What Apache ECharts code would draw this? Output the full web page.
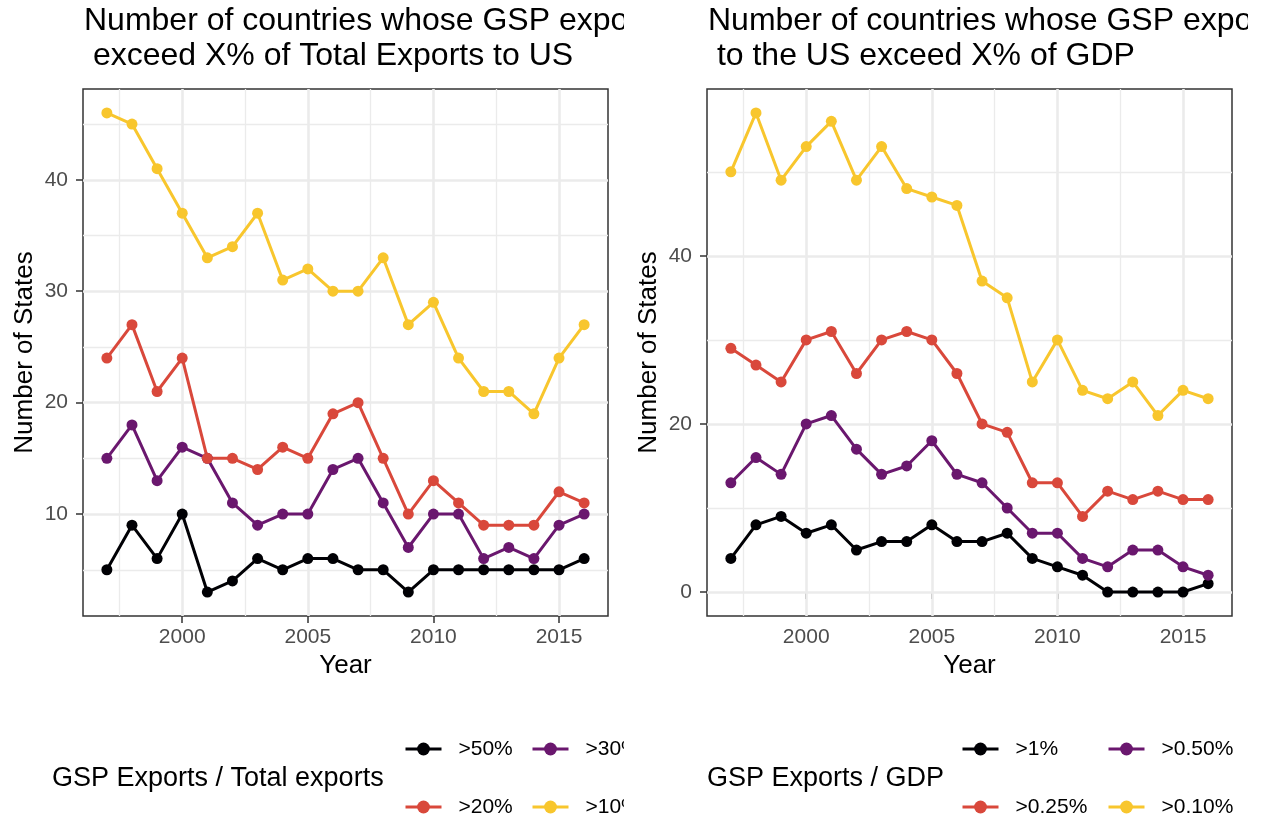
<!DOCTYPE html>
<html>
<head>
<meta charset="utf-8">
<script src="https://cdn.jsdelivr.net/npm/echarts@6/dist/echarts.min.js"></script>
<style>
  html, body { margin: 0; padding: 0; background: #ffffff; }
  #wrap { position: relative; width: 1262px; height: 819px; overflow: hidden; background: #ffffff; }
  .panel { position: absolute; top: 0; width: 624px; height: 819px; }
  #left { left: 0; }
  #right { left: 624px; }
</style>
</head>
<body>
<div id="wrap">
  <div id="left" class="panel"></div>
  <div id="right" class="panel"></div>
</div>
<script>
// ---- data ----
const years = [1997, 1998, 1999, 2000, 2001, 2002, 2003, 2004, 2005, 2006,
               2007, 2008, 2009, 2010, 2011, 2012, 2013, 2014, 2015, 2016];

// Number of states whose GSP exports exceed X% of total exports to the US
const exportsOver50 = [5, 9, 6, 10, 3, 4, 6, 5, 6, 6, 5, 5, 3, 5, 5, 5, 5, 5, 5, 6];
const exportsOver30 = [15, 18, 13, 16, 15, 11, 9, 10, 10, 14, 15, 11, 7, 10, 10, 6, 7, 6, 9, 10];
const exportsOver20 = [24, 27, 21, 24, 15, 15, 14, 16, 15, 19, 20, 15, 10, 13, 11, 9, 9, 9, 12, 11];
const exportsOver10 = [46, 45, 41, 37, 33, 34, 37, 31, 32, 30, 30, 33, 27, 29, 24, 21, 21, 19, 24, 27];

// Number of states whose GSP exports to the US exceed X% of GDP
const gdpOver1 = [4, 8, 9, 7, 8, 5, 6, 6, 8, 6, 6, 7, 4, 3, 2, 0, 0, 0, 0, 1];
const gdpOver050 = [13, 16, 14, 20, 21, 17, 14, 15, 18, 14, 13, 10, 7, 7, 4, 3, 5, 5, 3, 2];
const gdpOver025 = [29, 27, 25, 30, 31, 26, 30, 31, 30, 26, 20, 19, 13, 13, 9, 12, 11, 12, 11, 11];
const gdpOver010 = [50, 57, 49, 53, 56, 49, 53, 48, 47, 46, 37, 35, 25, 30, 24, 23, 25, 21, 24, 23];

const exportsNames = ['>50%', '>30%', '>20%', '>10%'];
const gdpNames = ['>1%', '>0.50%', '>0.25%', '>0.10%'];

// tick labels and grid breaks
const yearTicks = [2000, 2005, 2010, 2015];
const yearMinor = [1997.5, 2002.5, 2007.5, 2012.5];
const exportsTicks = [10, 20, 30, 40];
const exportsMinor = [5, 15, 25, 35, 45];
const gdpTicks = [0, 20, 40];
const gdpMinor = [10, 30, 50];

// ---- styling ----
const FONT = "'Liberation Sans', Arial, Helvetica, sans-serif";
const INK = '#333333';
const GRID = '#EBEBEB';
const COLORS = ['#000004', '#6A176E', '#D9483B', '#F8C62D'];

function gridLineSeries(xMajor, xMinor, yMajor, yMinor) {
  const major = { color: GRID, width: 2.6, type: 'solid' };
  const minor = { color: GRID, width: 1.3, type: 'solid' };
  const d = [];
  xMinor.forEach(v => d.push({ xAxis: v, lineStyle: minor }));
  yMinor.forEach(v => d.push({ yAxis: v, lineStyle: minor }));
  xMajor.forEach(v => d.push({ xAxis: v, lineStyle: major }));
  yMajor.forEach(v => d.push({ yAxis: v, lineStyle: major }));
  return {
    type: 'line', data: [], silent: true, z: 1, animation: false,
    markLine: {
      z: 1, silent: true, symbol: ['none', 'none'], label: { show: false },
      animation: false, emphasis: { disabled: true }, data: d
    }
  };
}

function lineSeries(name, color, values) {
  return {
    name: name, type: 'line',
    data: years.map((y, i) => [y, values[i]]),
    symbol: 'circle', symbolSize: 11, showSymbol: true,
    lineStyle: { color: color, width: 3 },
    itemStyle: { color: color },
    z: 3, animation: false, clip: false,
    emphasis: { disabled: true }
  };
}

function legendItem(name, left, top) {
  return {
    data: [name], left: left, top: top, padding: 0,
    orient: 'horizontal', itemWidth: 36, itemHeight: 16, itemGap: 0,
    selectedMode: false,
    lineStyle: { width: 3 },
    textStyle: { fontSize: 21, color: '#000000', fontFamily: FONT, lineHeight: 22, padding: [0, 0, 0, 12] }
  };
}

const plainNumber = v => String(v);

function panelOption(cfg) {
  return {
    backgroundColor: '#ffffff',
    animation: false,
    title: [
      {
        text: cfg.title, left: 84, top: 4, padding: 0,
        textStyle: { fontSize: 32, fontWeight: 'normal', color: '#000000', fontFamily: FONT, lineHeight: 35 }
      },
      {
        text: cfg.legendTitle, left: cfg.legendTitleLeft, top: 764, padding: 0,
        textStyle: { fontSize: 27, fontWeight: 'normal', color: '#000000', fontFamily: FONT, lineHeight: 30 }
      }
    ],
    grid: {
      left: 83, top: 89, width: 525, height: 527,
      show: true, borderColor: INK, borderWidth: 1.5, backgroundColor: '#ffffff'
    },
    xAxis: {
      type: 'value', min: 1996.05, max: 2016.95,
      axisLine: { show: false },
      axisTick: { show: true, customValues: yearTicks, length: 7, lineStyle: { color: INK, width: 1.5 } },
      axisLabel: { customValues: yearTicks, formatter: plainNumber, fontSize: 21, color: '#4D4D4D', margin: 11, fontFamily: FONT },
      splitLine: { show: false },
      name: 'Year', nameLocation: 'middle', nameGap: 37, nameMoveOverlap: false,
      nameTextStyle: { fontSize: 26, color: '#000000', fontFamily: FONT }
    },
    yAxis: {
      type: 'value', min: cfg.yMin, max: cfg.yMax,
      axisLine: { show: false },
      axisTick: { show: true, customValues: cfg.yTicks, length: 7, lineStyle: { color: INK, width: 1.5 } },
      axisLabel: { customValues: cfg.yTicks, formatter: plainNumber, fontSize: 21, color: '#4D4D4D', margin: 15, fontFamily: FONT },
      splitLine: { show: false },
      name: 'Number of States', nameLocation: 'middle', nameGap: 45, nameRotate: 90, nameMoveOverlap: false,
      nameTextStyle: { fontSize: 26, color: '#000000', fontFamily: FONT }
    },
    legend: [
      legendItem(cfg.names[0], cfg.col1, 738),
      legendItem(cfg.names[1], cfg.col2, 738),
      legendItem(cfg.names[2], cfg.col1, 796),
      legendItem(cfg.names[3], cfg.col2, 796)
    ],
    series: [gridLineSeries(yearTicks, yearMinor, cfg.yTicks, cfg.yMinor)]
      .concat(cfg.values.map((v, i) => lineSeries(cfg.names[i], COLORS[i], v)))
  };
}

const leftChart = echarts.init(document.getElementById('left'), null, { renderer: 'canvas' });
leftChart.setOption(panelOption({
  title: 'Number of countries whose GSP exports\n exceed X% of Total Exports to US',
  legendTitle: 'GSP Exports / Total exports', legendTitleLeft: 52,
  yMin: 0.85, yMax: 48.15, yTicks: exportsTicks, yMinor: exportsMinor,
  names: exportsNames,
  values: [exportsOver50, exportsOver30, exportsOver20, exportsOver10],
  col1: 404, col2: 531
}));

const rightChart = echarts.init(document.getElementById('right'), null, { renderer: 'canvas' });
rightChart.setOption(panelOption({
  title: 'Number of countries whose GSP exports\n to the US exceed X% of GDP',
  legendTitle: 'GSP Exports / GDP', legendTitleLeft: 83,
  yMin: -2.85, yMax: 59.85, yTicks: gdpTicks, yMinor: gdpMinor,
  names: gdpNames,
  values: [gdpOver1, gdpOver050, gdpOver025, gdpOver010],
  col1: 337, col2: 483
}));
</script>
</body>
</html>
